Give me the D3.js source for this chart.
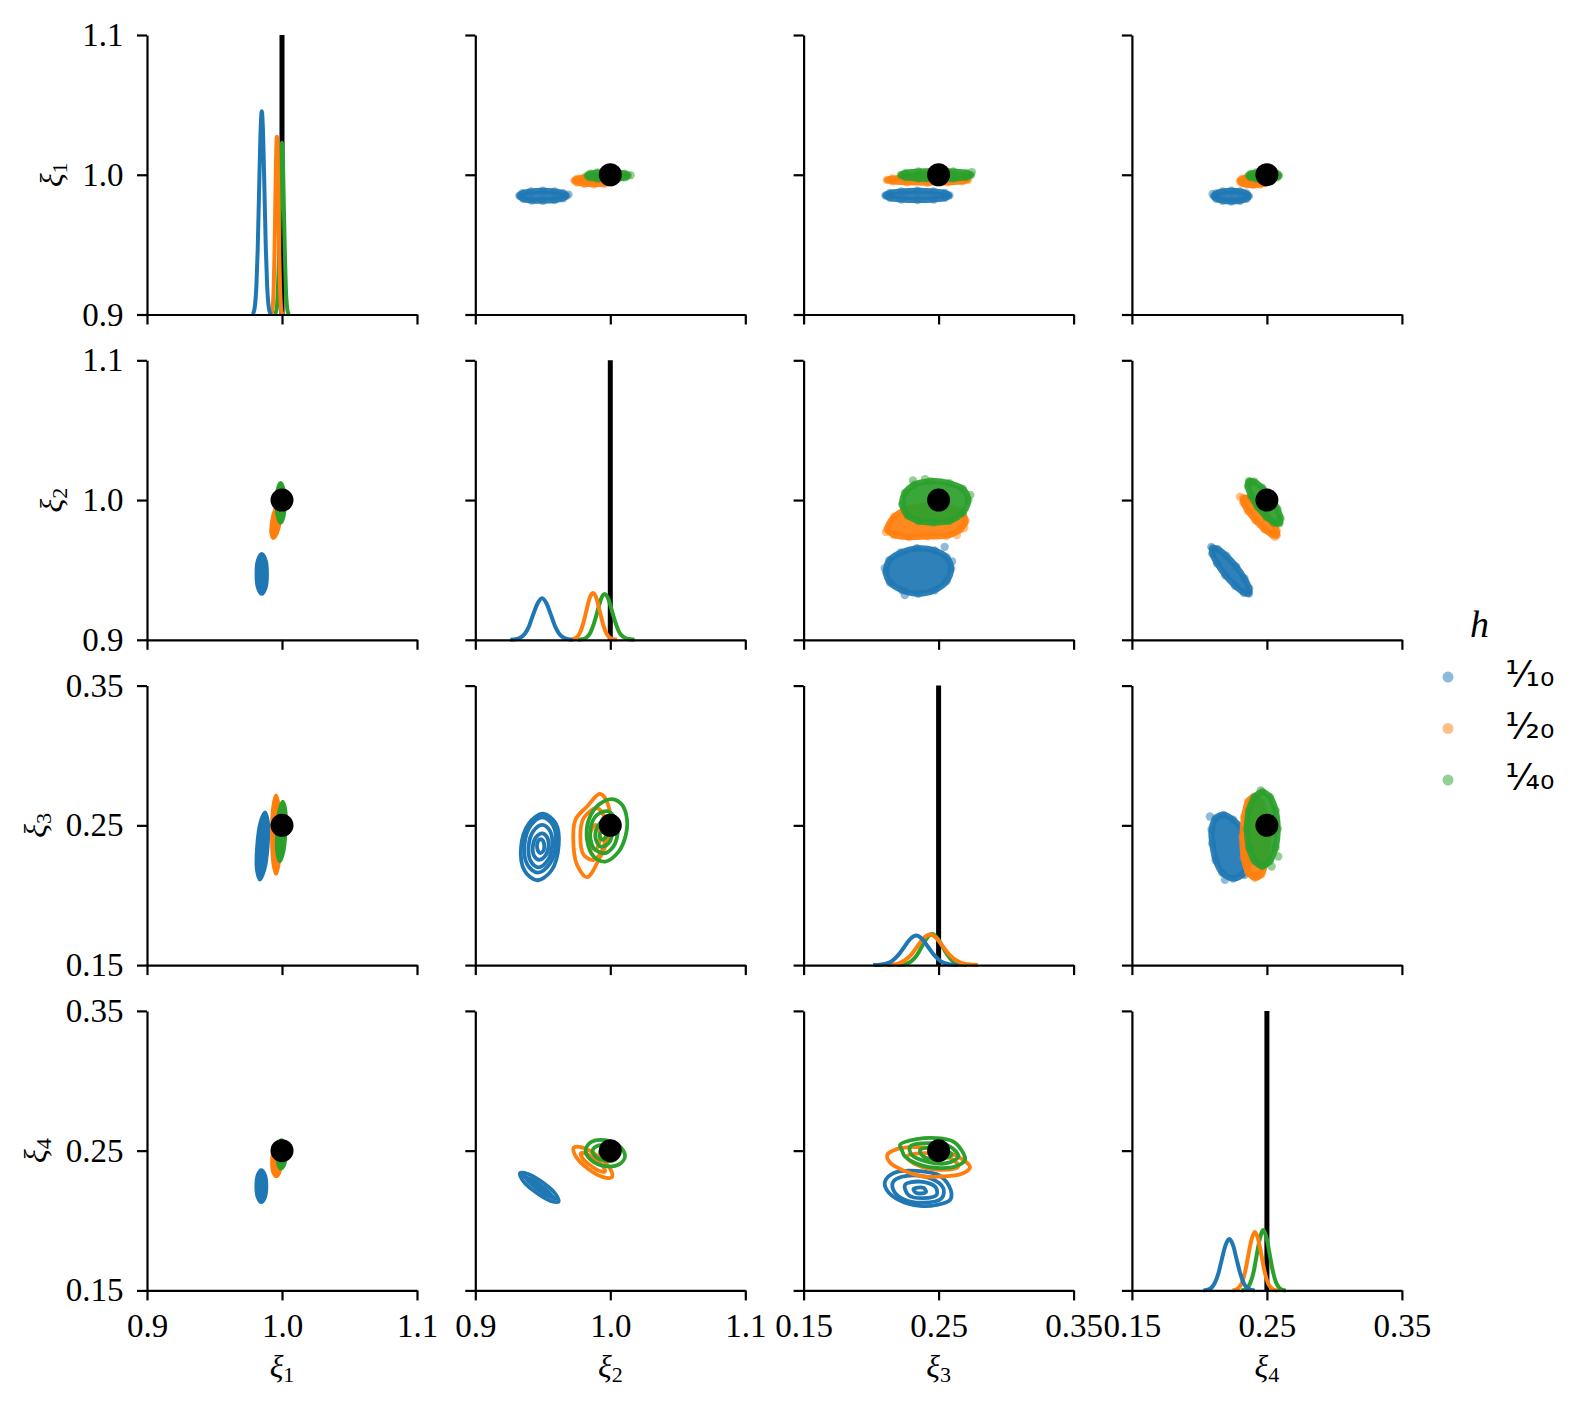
<!DOCTYPE html>
<html>
<head>
<meta charset="utf-8">
<script src="https://cdn.jsdelivr.net/npm/d3@7"></script>
<style>
  body { margin: 0; background: #fff; }
  svg { display: block; }
</style>
</head>
<body>
<div id="chart"></div>
<script>
///////////////////////////// VALUES /////////////////////////////

// variables xi_1 .. xi_4
const varSubs = ["1", "2", "3", "4"];
const varDomains = [[0.9, 1.1], [0.9, 1.1], [0.15, 0.35], [0.15, 0.35]];
const varTicks = [[0.9, 1.0, 1.1], [0.9, 1.0, 1.1], [0.15, 0.25, 0.35], [0.15, 0.25, 0.35]];
const tickLabels = [["0.9", "1.0", "1.1"], ["0.9", "1.0", "1.1"], ["0.15", "0.25", "0.35"], ["0.15", "0.25", "0.35"]];
const truth = [1.0, 1.0, 0.25, 0.25];
const hLabels = ["1/10", "1/20", "1/40"];

// diagonal kde curves [value, density], order: 1/10, 1/20, 1/40
const kde11 = [
  [[0.978,0],[0.979,2],[0.980,9],[0.981,27],[0.982,64],[0.983,120],[0.984,175],[0.985,200],[0.986,177],[0.987,122],[0.988,66],[0.989,28],[0.990,9],[0.991,2],[0.992,0]],
  [[0.9915,0],[0.9926,2],[0.9932,8],[0.9938,24],[0.9944,57],[0.9950,106],[0.9956,153],[0.9962,175],[0.9968,155],[0.9974,107],[0.9980,58],[0.9986,25],[0.9992,8],[0.9998,2],[1.001,0]],
  [[0.9942,0],[0.9954,2],[0.9962,7],[0.9969,23],[0.9977,55],[0.9984,103],[0.9992,149],[0.9999,169],[1.0007,150],[1.0014,104],[1.0022,56],[1.0029,24],[1.0037,8],[1.0044,2],[1.0056,0]]
];
const kde22 = [
  [[0.926,0],[0.9299,0.5],[0.9332,2],[0.9364,5.5],[0.9397,13],[0.9429,25],[0.9462,36],[0.9494,41],[0.9527,36],[0.9559,25],[0.9592,13],[0.9624,5.5],[0.9657,2],[0.9689,0.5],[0.972,0]],
  [[0.970,0],[0.9722,0.5],[0.9747,2],[0.9772,6],[0.9797,15],[0.9822,28],[0.9847,41],[0.9872,46],[0.9897,41],[0.9922,28],[0.9947,15],[0.9972,6],[0.9997,2],[1.0022,0.5],[1.005,0]],
  [[0.976,0],[0.9793,0.5],[0.9821,2],[0.9848,6],[0.9876,15],[0.9903,27],[0.9931,40],[0.9958,45],[0.9986,40],[1.0013,28],[1.0041,16],[1.0068,7],[1.0096,3],[1.0123,1],[1.018,0]]
];
const kde33 = [
  [[0.2015,0],[0.2064,0.3],[0.2109,1.3],[0.2154,4],[0.2199,9.5],[0.2244,17.5],[0.2289,25.5],[0.2334,29],[0.2379,25.5],[0.2424,17.5],[0.2469,9.5],[0.2514,4],[0.2559,1.3],[0.2604,0.3],[0.2640,0]],
  [[0.2120,0],[0.2155,0.4],[0.2202,1.5],[0.2249,4.5],[0.2296,10],[0.2343,18.5],[0.2390,26.5],[0.2437,30],[0.2484,26.5],[0.2531,18.5],[0.2578,10.5],[0.2625,5],[0.2672,2],[0.2719,0.8],[0.2790,0]],
  [[0.2190,0],[0.2225,0.3],[0.2263,1.3],[0.2300,4],[0.2338,9.5],[0.2375,18],[0.2413,26.5],[0.2450,30.5],[0.2488,27],[0.2525,19],[0.2563,10.5],[0.2600,4.5],[0.2638,1.5],[0.2675,0.4],[0.2710,0]]
];
const kde44 = [
  [[0.2030,0],[0.2056,0.5],[0.2084,2],[0.2111,6.5],[0.2139,16],[0.2166,30.5],[0.2194,44.5],[0.2221,50.5],[0.2249,44.5],[0.2276,30.5],[0.2304,16],[0.2331,6.5],[0.2359,2],[0.2386,0.5],[0.2410,0]],
  [[0.2245,0],[0.2267,0.6],[0.2291,2.5],[0.2315,7.5],[0.2339,18.5],[0.2363,35],[0.2387,50.5],[0.2411,57.5],[0.2435,50.5],[0.2459,35],[0.2483,18.5],[0.2507,7.5],[0.2531,2.5],[0.2555,0.6],[0.2580,0]],
  [[0.2310,0],[0.2332,0.6],[0.2356,2.5],[0.2379,8],[0.2403,19],[0.2426,36],[0.2450,52],[0.2473,59.5],[0.2497,52],[0.2520,36],[0.2544,19],[0.2567,8],[0.2591,2.5],[0.2614,0.6],[0.2640,0]]
];

// upper triangle scatter: edge points of each dense cloud [x, y], plus stray points
const scatter12 = [
  [[0.9674,0.9850],[0.9651,0.9868],[0.9587,0.9881],[0.9500,0.9886],[0.9413,0.9881],[0.9349,0.9868],[0.9326,0.9850],[0.9355,0.9828],[0.9420,0.9815],[0.9500,0.9814],[0.9587,0.9819],[0.9651,0.9832]],
  [[1.0026,0.9958],[1.0006,0.9971],[0.9953,0.9981],[0.9880,0.9984],[0.9807,0.9981],[0.9754,0.9971],[0.9734,0.9958],[0.9754,0.9945],[0.9807,0.9935],[0.9880,0.9932],[0.9953,0.9935],[1.0006,0.9945]],
  [[1.0130,0.9994],[1.0110,1.0007],[1.0055,1.0016],[0.9980,1.0019],[0.9905,1.0016],[0.9850,1.0007],[0.9830,0.9994],[0.9850,0.9981],[0.9905,0.9972],[0.9980,0.9969],[1.0055,0.9972],[1.0110,0.9981]]
];
const strays12 = [[[0.9690,0.9858]], [], [[1.0150,0.9997]]];
const scatter13 = [
  [[0.2580,0.9852],[0.2548,0.9869],[0.2462,0.9881],[0.2343,0.9885],[0.2225,0.9881],[0.2138,0.9869],[0.2106,0.9852],[0.2138,0.9835],[0.2225,0.9823],[0.2343,0.9819],[0.2462,0.9823],[0.2548,0.9835]],
  [[0.2717,0.9963],[0.2677,0.9973],[0.2567,0.9980],[0.2417,0.9983],[0.2267,0.9980],[0.2157,0.9973],[0.2117,0.9963],[0.2157,0.9953],[0.2267,0.9946],[0.2417,0.9943],[0.2567,0.9946],[0.2677,0.9953]],
  [[0.2740,0.9998],[0.2705,1.0013],[0.2610,1.0023],[0.2480,1.0027],[0.2350,1.0023],[0.2255,1.0013],[0.2220,0.9998],[0.2255,0.9983],[0.2350,0.9973],[0.2480,0.9969],[0.2610,0.9973],[0.2705,0.9983]]
];
const strays13 = [[], [], [[0.2746,1.0019]]];
const scatter14 = [
  [[0.2366,0.9847],[0.2349,0.9866],[0.2302,0.9880],[0.2237,0.9885],[0.2172,0.9880],[0.2125,0.9866],[0.2108,0.9847],[0.2125,0.9828],[0.2172,0.9814],[0.2237,0.9809],[0.2302,0.9814],[0.2349,0.9828]],
  [[0.2500,0.9955],[0.2487,0.9970],[0.2450,0.9980],[0.2400,0.9984],[0.2350,0.9980],[0.2313,0.9970],[0.2300,0.9955],[0.2313,0.9940],[0.2350,0.9930],[0.2400,0.9926],[0.2450,0.9930],[0.2487,0.9940]],
  [[0.2590,0.9994],[0.2575,1.0007],[0.2534,1.0016],[0.2478,1.0019],[0.2422,1.0016],[0.2381,1.0007],[0.2366,0.9994],[0.2381,0.9981],[0.2422,0.9972],[0.2478,0.9969],[0.2534,0.9972],[0.2575,0.9981]]
];
const strays14 = [[[0.2098,0.9862]], [], []];
const scatter23 = [
  [[0.2593,0.9510],[0.2560,0.9590],[0.2470,0.9640],[0.2340,0.9655],[0.2220,0.9625],[0.2135,0.9570],[0.2110,0.9485],[0.2140,0.9410],[0.2230,0.9355],[0.2350,0.9330],[0.2470,0.9355],[0.2560,0.9420]],
  [[0.2700,0.9850],[0.2660,0.9920],[0.2560,0.9950],[0.2420,0.9960],[0.2280,0.9940],[0.2170,0.9880],[0.2120,0.9790],[0.2170,0.9750],[0.2280,0.9735],[0.2420,0.9740],[0.2560,0.9745],[0.2660,0.9790]],
  [[0.2720,1.0000],[0.2680,1.0080],[0.2580,1.0120],[0.2440,1.0135],[0.2320,1.0110],[0.2250,1.0050],[0.2230,0.9970],[0.2270,0.9890],[0.2350,0.9850],[0.2460,0.9840],[0.2580,0.9850],[0.2680,0.9910]]
];
const strays23 = [[[0.2545,0.9665],[0.2101,0.9513],[0.2250,0.9320],[0.2600,0.9560]], [[0.2635,0.9749],[0.2110,0.9772],[0.2690,0.9800]], [[0.2735,1.0036],[0.2400,1.0150],[0.2310,1.0140]]];
const scatter24 = [
  [[0.2367,0.9331],[0.2369,0.9368],[0.2334,0.9439],[0.2272,0.9525],[0.2199,0.9601],[0.2135,0.9649],[0.2097,0.9655],[0.2095,0.9618],[0.2130,0.9547],[0.2192,0.9461],[0.2265,0.9385],[0.2329,0.9337]],
  [[0.2573,0.9749],[0.2573,0.9781],[0.2540,0.9840],[0.2482,0.9911],[0.2416,0.9974],[0.2358,1.0012],[0.2325,1.0015],[0.2325,0.9983],[0.2358,0.9924],[0.2416,0.9853],[0.2482,0.9790],[0.2540,0.9752]],
  [[0.2593,0.9833],[0.2601,0.9869],[0.2578,0.9937],[0.2528,1.0018],[0.2465,1.0088],[0.2407,1.0131],[0.2367,1.0135],[0.2359,1.0099],[0.2382,1.0031],[0.2432,0.9950],[0.2495,0.9880],[0.2553,0.9837]]
];
const strays24 = [[[0.2088,0.9665]], [[0.2560,0.9737],[0.2300,1.0024]], []];
const scatter34 = [
  [[0.2358,0.2320],[0.2330,0.2450],[0.2250,0.2540],[0.2180,0.2575],[0.2120,0.2550],[0.2090,0.2470],[0.2095,0.2370],[0.2120,0.2250],[0.2170,0.2160],[0.2250,0.2120],[0.2320,0.2150],[0.2355,0.2220]],
  [[0.2505,0.2415],[0.2492,0.2560],[0.2457,0.2666],[0.2405,0.2705],[0.2360,0.2670],[0.2330,0.2560],[0.2318,0.2415],[0.2328,0.2270],[0.2360,0.2165],[0.2410,0.2125],[0.2460,0.2150],[0.2495,0.2260]],
  [[0.2580,0.2474],[0.2565,0.2607],[0.2523,0.2703],[0.2466,0.2739],[0.2409,0.2703],[0.2367,0.2607],[0.2352,0.2474],[0.2367,0.2341],[0.2409,0.2245],[0.2466,0.2209],[0.2523,0.2245],[0.2565,0.2341]]
];
const strays34 = [[[0.2078,0.2563],[0.2189,0.2110],[0.2337,0.2146]], [], [[0.2584,0.2277],[0.2535,0.2205],[0.2454,0.2749]]];

// lower triangle kde contour loops [x, y]
const contour21 = [
  [[[0.9889,0.9471],[0.9878,0.9572],[0.9850,0.9614],[0.9822,0.9572],[0.9811,0.9471],[0.9822,0.9370],[0.9850,0.9328],[0.9878,0.9370]],
   [[0.9866,0.9471],[0.9861,0.9559],[0.9850,0.9596],[0.9839,0.9559],[0.9834,0.9471],[0.9839,0.9383],[0.9850,0.9346],[0.9861,0.9383]],
   [[0.9854,0.9471],[0.9853,0.9552],[0.9850,0.9586],[0.9847,0.9552],[0.9846,0.9471],[0.9847,0.9390],[0.9850,0.9356],[0.9853,0.9390]]],
  [[[0.9984,0.9846],[0.9989,0.9929],[0.9974,0.9964],[0.9948,0.9929],[0.9926,0.9846],[0.9921,0.9763],[0.9936,0.9728],[0.9962,0.9763]],
   [[0.9969,0.9846],[0.9976,0.9918],[0.9971,0.9948],[0.9956,0.9918],[0.9941,0.9846],[0.9934,0.9774],[0.9939,0.9744],[0.9954,0.9774]],
   [[0.9958,0.9846],[0.9967,0.9910],[0.9969,0.9936],[0.9963,0.9910],[0.9952,0.9846],[0.9943,0.9782],[0.9941,0.9756],[0.9947,0.9782]]],
  [[[1.0020,0.9980],[1.0011,1.0081],[0.9990,1.0123],[0.9969,1.0081],[0.9960,0.9980],[0.9969,0.9879],[0.9990,0.9837],[1.0011,0.9879]],
   [[1.0003,0.9980],[0.9999,1.0068],[0.9990,1.0105],[0.9981,1.0068],[0.9977,0.9980],[0.9981,0.9892],[0.9990,0.9855],[0.9999,0.9892]],
   [[0.9993,0.9980],[0.9992,1.0058],[0.9990,1.0090],[0.9988,1.0058],[0.9987,0.9980],[0.9988,0.9902],[0.9990,0.9870],[0.9992,0.9902]]]
];
const contour31 = [
  [[[0.9894,0.2352],[0.9896,0.2522],[0.9874,0.2592],[0.9841,0.2522],[0.9816,0.2352],[0.9814,0.2182],[0.9836,0.2112],[0.9869,0.2182]],
   [[0.9872,0.2352],[0.9879,0.2500],[0.9872,0.2562],[0.9855,0.2500],[0.9838,0.2352],[0.9831,0.2204],[0.9838,0.2142],[0.9855,0.2204]],
   [[0.9858,0.2352],[0.9868,0.2486],[0.9870,0.2542],[0.9864,0.2486],[0.9852,0.2352],[0.9842,0.2218],[0.9840,0.2162],[0.9846,0.2218]]],
  [[[0.9986,0.2434],[0.9977,0.2633],[0.9956,0.2715],[0.9935,0.2633],[0.9926,0.2434],[0.9935,0.2235],[0.9956,0.2153],[0.9977,0.2235]],
   [[0.9969,0.2434],[0.9965,0.2607],[0.9956,0.2679],[0.9947,0.2607],[0.9943,0.2434],[0.9947,0.2261],[0.9956,0.2189],[0.9965,0.2261]],
   [[0.9959,0.2434],[0.9958,0.2590],[0.9956,0.2654],[0.9954,0.2590],[0.9953,0.2434],[0.9954,0.2278],[0.9956,0.2214],[0.9958,0.2278]]],
  [[[1.0026,0.2456],[1.0025,0.2607],[1.0006,0.2669],[0.9981,0.2607],[0.9964,0.2456],[0.9965,0.2305],[0.9984,0.2243],[1.0009,0.2305]],
   [[1.0008,0.2456],[1.0011,0.2587],[1.0005,0.2641],[0.9993,0.2587],[0.9982,0.2456],[0.9979,0.2325],[0.9985,0.2271],[0.9997,0.2325]],
   [[0.9998,0.2456],[1.0003,0.2569],[1.0004,0.2616],[0.9999,0.2569],[0.9992,0.2456],[0.9987,0.2343],[0.9986,0.2296],[0.9991,0.2343]]]
];
const contour41 = [
  [[[0.9884,0.2246],[0.9873,0.2327],[0.9847,0.2361],[0.9821,0.2327],[0.9810,0.2246],[0.9821,0.2165],[0.9847,0.2131],[0.9873,0.2165]],
   [[0.9863,0.2246],[0.9858,0.2315],[0.9847,0.2344],[0.9836,0.2315],[0.9831,0.2246],[0.9836,0.2177],[0.9847,0.2148],[0.9858,0.2177]],
   [[0.9850,0.2246],[0.9849,0.2306],[0.9847,0.2331],[0.9845,0.2306],[0.9844,0.2246],[0.9845,0.2186],[0.9847,0.2161],[0.9849,0.2186]]],
  [[[0.9990,0.2416],[0.9981,0.2486],[0.9958,0.2515],[0.9935,0.2486],[0.9926,0.2416],[0.9935,0.2346],[0.9958,0.2317],[0.9981,0.2346]],
   [[0.9972,0.2416],[0.9968,0.2476],[0.9958,0.2501],[0.9948,0.2476],[0.9944,0.2416],[0.9948,0.2356],[0.9958,0.2331],[0.9968,0.2356]],
   [[0.9961,0.2416],[0.9960,0.2466],[0.9958,0.2486],[0.9956,0.2466],[0.9955,0.2416],[0.9956,0.2366],[0.9958,0.2346],[0.9960,0.2366]]],
  [[[1.0026,0.2473],[1.0017,0.2545],[0.9995,0.2575],[0.9973,0.2545],[0.9964,0.2473],[0.9973,0.2401],[0.9990,0.2371],[1.0017,0.2401]],
   [[1.0008,0.2473],[1.0004,0.2535],[0.9995,0.2561],[0.9986,0.2535],[0.9982,0.2473],[0.9986,0.2411],[0.9995,0.2385],[1.0004,0.2411]],
   [[0.9998,0.2473],[0.9997,0.2524],[0.9995,0.2545],[0.9993,0.2524],[0.9992,0.2473],[0.9993,0.2422],[0.9995,0.2401],[0.9997,0.2422]]]
];
const contour32 = [
  [[[0.9618,0.2360],[0.9596,0.2513],[0.9502,0.2583],[0.9396,0.2513],[0.9339,0.2345],[0.9364,0.2177],[0.9458,0.2107],[0.9564,0.2177]],
   [[0.9596,0.2360],[0.9575,0.2500],[0.9498,0.2558],[0.9411,0.2500],[0.9364,0.2360],[0.9385,0.2220],[0.9462,0.2162],[0.9549,0.2220]],
   [[0.9569,0.2352],[0.9554,0.2459],[0.9496,0.2504],[0.9430,0.2459],[0.9395,0.2352],[0.9410,0.2245],[0.9468,0.2200],[0.9534,0.2245]],
   [[0.9542,0.2348],[0.9532,0.2415],[0.9494,0.2443],[0.9450,0.2415],[0.9426,0.2348],[0.9436,0.2281],[0.9474,0.2253],[0.9518,0.2281]],
   [[0.9511,0.2351],[0.9503,0.2386],[0.9486,0.2401],[0.9465,0.2386],[0.9457,0.2351],[0.9465,0.2316],[0.9482,0.2301],[0.9503,0.2316]]],
  [[[0.9926,0.2726],[0.9988,0.2635],[0.9988,0.2420],[0.9914,0.2253],[0.9828,0.2129],[0.9754,0.2217],[0.9728,0.2348],[0.9741,0.2539],[0.9828,0.2635]],
   [[0.9902,0.2623],[0.9963,0.2539],[0.9951,0.2348],[0.9877,0.2253],[0.9803,0.2289],[0.9778,0.2420],[0.9803,0.2552]],
   [[0.9889,0.2504],[0.9926,0.2420],[0.9889,0.2325],[0.9840,0.2396]]],
  [[[1.0013,0.2688],[1.0087,0.2647],[1.0124,0.2539],[1.0112,0.2420],[1.0062,0.2312],[0.9963,0.2241],[0.9877,0.2277],[0.9828,0.2396],[0.9840,0.2539],[0.9914,0.2647]],
   [[0.9988,0.2599],[1.0050,0.2516],[1.0037,0.2373],[0.9963,0.2301],[0.9877,0.2337],[0.9852,0.2468],[0.9902,0.2575]],
   [[0.9963,0.2539],[1.0013,0.2468],[0.9988,0.2373],[0.9926,0.2348],[0.9889,0.2420],[0.9914,0.2504]],
   [[0.9948,0.2461],[0.9970,0.2425],[0.9941,0.2397],[0.9919,0.2432]]]
];
const contour42 = [
  [[[0.9617,0.2135],[0.9594,0.2190],[0.9500,0.2272],[0.9391,0.2333],[0.9331,0.2339],[0.9354,0.2284],[0.9448,0.2202],[0.9557,0.2141]],
   [[0.9570,0.2169],[0.9549,0.2199],[0.9485,0.2251],[0.9414,0.2295],[0.9378,0.2305],[0.9399,0.2275],[0.9463,0.2223],[0.9534,0.2179]],
   [[0.9593,0.2153],[0.9561,0.2181],[0.9478,0.2243],[0.9392,0.2301],[0.9355,0.2321],[0.9387,0.2293],[0.9470,0.2231],[0.9556,0.2173]]],
  [[[1.0013,0.2311],[0.9997,0.2374],[0.9907,0.2462],[0.9795,0.2522],[0.9729,0.2521],[0.9745,0.2458],[0.9835,0.2370],[0.9947,0.2310]],
   [[0.9960,0.2351],[0.9947,0.2387],[0.9889,0.2439],[0.9821,0.2478],[0.9782,0.2481],[0.9795,0.2445],[0.9853,0.2393],[0.9921,0.2354]]],
  [[[1.0109,0.2461],[1.0066,0.2533],[0.9963,0.2575],[0.9860,0.2563],[0.9817,0.2503],[0.9860,0.2431],[0.9963,0.2389],[1.0066,0.2401]],
   [[1.0058,0.2468],[1.0030,0.2511],[0.9963,0.2537],[0.9896,0.2531],[0.9868,0.2496],[0.9896,0.2453],[0.9963,0.2427],[1.0030,0.2433]],
   [[1.0003,0.2476],[0.9991,0.2496],[0.9963,0.2507],[0.9935,0.2504],[0.9923,0.2488],[0.9935,0.2468],[0.9963,0.2457],[0.9991,0.2460]]]
];
const contour43 = [
  [[[0.2103,0.2279],[0.2177,0.2343],[0.2338,0.2355],[0.2511,0.2320],[0.2590,0.2219],[0.2585,0.2148],[0.2486,0.2112],[0.2362,0.2105],[0.2214,0.2143],[0.2116,0.2219]],
   [[0.2165,0.2279],[0.2264,0.2320],[0.2437,0.2303],[0.2535,0.2232],[0.2523,0.2160],[0.2387,0.2128],[0.2239,0.2153],[0.2165,0.2219]],
   [[0.2251,0.2255],[0.2363,0.2279],[0.2474,0.2243],[0.2486,0.2184],[0.2387,0.2160],[0.2276,0.2184]],
   [[0.2313,0.2224],[0.2387,0.2234],[0.2407,0.2205],[0.2338,0.2196]]],
  [[[0.2120,0.2470],[0.2190,0.2511],[0.2313,0.2525],[0.2511,0.2506],[0.2683,0.2434],[0.2733,0.2382],[0.2672,0.2334],[0.2511,0.2315],[0.2387,0.2315],[0.2239,0.2358],[0.2140,0.2415]],
   [[0.2264,0.2458],[0.2412,0.2482],[0.2609,0.2434],[0.2646,0.2386],[0.2511,0.2363],[0.2338,0.2398]]],
  [[[0.2214,0.2542],[0.2338,0.2582],[0.2486,0.2590],[0.2609,0.2565],[0.2683,0.2482],[0.2696,0.2434],[0.2622,0.2386],[0.2511,0.2375],[0.2363,0.2398],[0.2251,0.2458],[0.2227,0.2506]],
   [[0.2288,0.2529],[0.2437,0.2554],[0.2585,0.2529],[0.2646,0.2458],[0.2560,0.2410],[0.2412,0.2422],[0.2301,0.2470]],
   [[0.2363,0.2506],[0.2511,0.2518],[0.2597,0.2470],[0.2511,0.2439],[0.2387,0.2458]]]
];

///////////////////////////// LAYOUT AND STYLE /////////////////////////////

const width = 1578, height = 1409;
const palette = ["#1f77b4", "#ff7f0e", "#2ca02c"];
const left0 = 147, stepX = 328.3, panelW = 270;
const top0 = 35, stepY = 325.3, panelH = 279.5;
const densityTop = 275;
const serif = "'Liberation Serif', 'DejaVu Serif', serif";
const sans = "'DejaVu Sans', sans-serif";
const axisStroke = 2.2;
const tickLen = 10, tickPadY = 13.5;
const tickFont = 33;

const diagSets = [kde11, kde22, kde33, kde44];
const scatterSets = {
  "01": [scatter12, strays12], "02": [scatter13, strays13], "03": [scatter14, strays14],
  "12": [scatter23, strays23], "13": [scatter24, strays24], "23": [scatter34, strays34]
};
const contourSets = { "10": contour21, "20": contour31, "30": contour41, "21": contour32, "31": contour42, "32": contour43 };

const svg = d3.select("#chart").append("svg")
  .attr("width", width)
  .attr("height", height);

svg.append("rect").attr("width", width).attr("height", height).attr("fill", "#fff");

const rowLabelWidth = [0, 0, 0, 0];

for (let r = 0; r < 4; r++) {
  for (let c = 0; c < 4; c++) {
    const g = svg.append("g")
      .attr("transform", `translate(${left0 + c * stepX},${top0 + r * stepY})`);
    const x = d3.scaleLinear().domain(varDomains[c]).range([0, panelW]);
    const y = d3.scaleLinear().domain(varDomains[r]).range([panelH, 0]);
    const closed = d3.line().x(d => x(d[0])).y(d => y(d[1])).curve(d3.curveCatmullRomClosed);

    if (r === c) {
      // diagonal: truth line and kde curves (first level on top)
      const yd = d3.scaleLinear().domain([0, densityTop]).range([panelH, 0]);
      g.append("line")
        .attr("x1", x(truth[c])).attr("x2", x(truth[c]))
        .attr("y1", 0).attr("y2", panelH)
        .attr("stroke", "#000").attr("stroke-width", 5);
      const kdeLine = d3.line().x(d => x(d[0])).y(d => yd(d[1])).curve(d3.curveMonotoneX);
      [2, 1, 0].forEach(k => {
        g.append("path")
          .attr("d", kdeLine(diagSets[r][k]))
          .attr("fill", "none")
          .attr("stroke", palette[k])
          .attr("stroke-width", 4)
          .attr("stroke-linejoin", "round");
      });
    } else if (c > r) {
      // upper: scatter clouds, dense core plus the half transparent dots round its edge
      const [clouds, strays] = scatterSets[`${r}${c}`];
      clouds.forEach((pts, k) => {
        g.append("path")
          .attr("d", closed(pts))
          .attr("fill", palette[k]).attr("fill-opacity", 0.93)
          .attr("stroke", palette[k]).attr("stroke-opacity", 0.93)
          .attr("stroke-width", 6).attr("stroke-linejoin", "round");
        g.selectAll(null)
          .data(pts.concat(strays[k])).enter()
          .append("circle")
          .attr("cx", d => x(d[0]))
          .attr("cy", d => y(d[1]))
          .attr("r", 4.2)
          .attr("fill", palette[k])
          .attr("fill-opacity", 0.5);
      });
    } else {
      // lower: kde contours
      contourSets[`${r}${c}`].forEach((loops, k) => {
        loops.forEach(loop => {
          g.append("path")
            .attr("d", closed(loop))
            .attr("fill", "none")
            .attr("stroke", palette[k])
            .attr("stroke-width", 3.8)
            .attr("stroke-linejoin", "round");
        });
      });
    }

    if (r !== c) {
      g.append("circle")
        .attr("cx", x(truth[c]))
        .attr("cy", y(truth[r]))
        .attr("r", 11.5)
        .attr("fill", "#000");
    }

    // axes
    const xAxis = d3.axisBottom(x)
      .tickValues(varTicks[c])
      .tickSize(tickLen).tickSizeOuter(0).tickPadding(13)
      .tickFormat((d, i) => r === 3 ? tickLabels[c][i] : "");
    const yAxis = d3.axisLeft(y)
      .tickValues(varTicks[r])
      .tickSize(tickLen).tickSizeOuter(0).tickPadding(tickPadY)
      .tickFormat((d, i) => c === 0 ? tickLabels[r][i] : "");

    const axX = g.append("g").attr("transform", `translate(0,${panelH})`).call(xAxis);
    const axY = g.append("g").call(yAxis);
    [axX, axY].forEach(ax => {
      ax.attr("font-family", serif).attr("font-size", tickFont);
      ax.select(".domain").attr("stroke", "#000").attr("stroke-width", axisStroke);
      ax.selectAll(".tick line").attr("stroke", "#000").attr("stroke-width", axisStroke);
      ax.selectAll(".tick text").attr("fill", "#000");
    });
    if (c === 0) {
      axY.selectAll(".tick text").each(function () {
        rowLabelWidth[r] = Math.max(rowLabelWidth[r], this.getBBox().width);
      });
    }
  }
}

// axis labels
for (let i = 0; i < 4; i++) {
  const xl = svg.append("text")
    .attr("x", left0 + i * stepX + panelW / 2)
    .attr("y", 1377)
    .attr("text-anchor", "middle")
    .attr("font-family", serif)
    .attr("font-size", 32);
  xl.append("tspan").attr("font-style", "italic").text("\u03BE");
  xl.append("tspan").attr("font-size", 22).attr("dy", 5).text(varSubs[i]);

  // y label sits left of the widest tick label of its row
  const yx = left0 - tickLen - tickPadY - rowLabelWidth[i] - 20;
  const yl = svg.append("text")
    .attr("transform", `translate(${yx},${top0 + i * stepY + panelH / 2}) rotate(-90)`)
    .attr("text-anchor", "middle")
    .attr("font-family", serif)
    .attr("font-size", 32);
  yl.append("tspan").attr("font-style", "italic").text("\u03BE");
  yl.append("tspan").attr("font-size", 22).attr("dy", 5).text(varSubs[i]);
}

// legend
const supDigits = { "0": "\u2070", "1": "\u00B9", "2": "\u00B2", "4": "\u2074" };
const subDigits = { "0": "\u2080", "1": "\u2081", "2": "\u2082", "4": "\u2084" };
const asFraction = lab => {
  const [num, den] = lab.split("/");
  return num.split("").map(ch => supDigits[ch]).join("") + "\u2044" +
         den.split("").map(ch => subDigits[ch]).join("");
};

const legend = svg.append("g");
legend.append("text")
  .attr("x", 1470).attr("y", 637)
  .attr("font-family", serif)
  .attr("font-style", "italic")
  .attr("font-size", 38)
  .text("h");

hLabels.forEach((lab, k) => {
  const my = 677 + k * 51.5;
  legend.append("circle")
    .attr("cx", 1448).attr("cy", my).attr("r", 5.5)
    .attr("fill", palette[k]).attr("fill-opacity", 0.5);
  legend.append("text")
    .attr("x", 1505).attr("y", my + 9)
    .attr("font-family", sans)
    .attr("font-size", 36)
    .attr("fill", "#000")
    .text(asFraction(lab));
});
</script>
</body>
</html>
